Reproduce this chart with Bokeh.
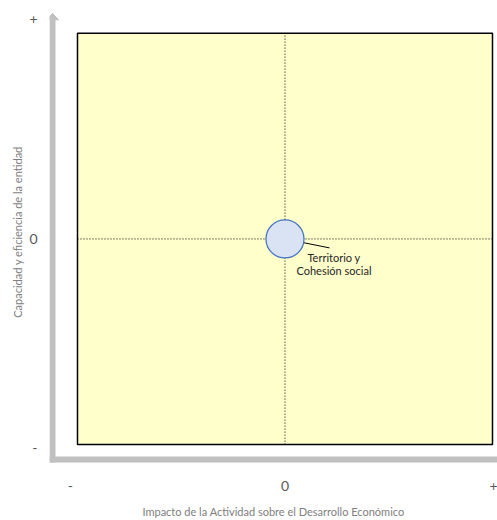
from bokeh.plotting import figure
from bokeh.models import FixedTicker, Range1d, ColumnDataSource
from bokeh.embed import file_html
from bokeh.resources import INLINE
from bokeh.core.properties import value

# ---- data ----
quad_x = [-1.0, 1.0]          # extent of the evaluation matrix (x)
quad_y = [-1.0, 1.0]          # extent of the evaluation matrix (y)
entity_names = ["Territorio y\nCohesión social"]
entity_x = [0.0]
entity_y = [0.0]
x_tick_values = [-1.034, 0.0, 1.0241]
x_tick_labels = ["-", "0", "+"]
y_tick_values = [-1.0145, 0.0, 1.0676]
y_tick_labels = ["-", "0", "+"]
x_title = "Impacto de la Actividad sobre el Desarrollo Económico"
y_title = "Capacidad y eficiencia de la entidad"

# ---- layout constants (data units) ----
X_RANGE = (-1.1349, 1.0241)
Y_RANGE = (-1.0918, 1.1594)
AXIS_X = -1.1205
AXIS_Y = -1.0725
CORNER_X, CORNER_Y = 0.0145, 0.0145
ARROW_TIP, ARROW_BASE, ARROW_HALF_W = 1.0966, 1.0652, 0.029
LEADER_DX, LEADER_DY = 0.2145, -0.0435

FONT = "Lato"
GREY = "#c0c0c0"

p = figure(width=497, height=520, output_backend="svg", toolbar_location=None,
           x_range=Range1d(*X_RANGE), y_range=Range1d(*Y_RANGE),
           min_border_left=49, min_border_bottom=54, min_border_top=0, min_border_right=0)
p.outline_line_color = None
p.grid.visible = False

# axes
for ax, vals, labs, title in [(p.xaxis[0], x_tick_values, x_tick_labels, x_title),
                              (p.yaxis[0], y_tick_values, y_tick_labels, y_title)]:
    ax.ticker = FixedTicker(ticks=vals)
    ax.major_label_overrides = {v: l for v, l in zip(vals, labs)}
    ax.axis_line_color = None
    ax.major_tick_line_color = None
    ax.minor_tick_line_color = None
    ax.major_label_text_font = FONT
    ax.major_label_text_font_size = "14px"
    ax.major_label_text_color = "#595959"
    ax.axis_label = title
    ax.axis_label_text_font = FONT
    ax.axis_label_text_font_size = "11px"
    ax.axis_label_text_font_style = "normal"
    ax.axis_label_text_color = "#808080"
p.xaxis.major_label_standoff = 11
p.yaxis.major_label_standoff = 6
p.xaxis.axis_label_standoff = 11
p.yaxis.axis_label_standoff = 2

# grey axis lines with arrow head
p.segment(x0=[AXIS_X, AXIS_X - CORNER_X], y0=[AXIS_Y - CORNER_Y, AXIS_Y],
          x1=[AXIS_X, X_RANGE[1]], y1=[ARROW_BASE, AXIS_Y],
          line_color=GREY, line_width=6)
p.patch(x=[AXIS_X - ARROW_HALF_W, AXIS_X, AXIS_X + ARROW_HALF_W],
        y=[ARROW_BASE, ARROW_TIP, ARROW_BASE],
        fill_color=GREY, line_color=GREY, line_width=1)

# matrix box
p.quad(left=[quad_x[0]], right=[quad_x[1]], bottom=[quad_y[0]], top=[quad_y[1]],
       fill_color="#ffffcc", line_color="#000000", line_width=1.5)
mid_x = (quad_x[0] + quad_x[1]) / 2
mid_y = (quad_y[0] + quad_y[1]) / 2
p.segment(x0=[mid_x, quad_x[0]], y0=[quad_y[0], mid_y], x1=[mid_x, quad_x[1]], y1=[quad_y[1], mid_y],
          line_color="#000000", line_width=1, line_dash="1 2")

# bubble, leader line and label
src = ColumnDataSource(dict(x=entity_x, y=entity_y,
                            lx=[x + LEADER_DX for x in entity_x],
                            ly=[y + LEADER_DY for y in entity_y]))
p.segment(x0="x", y0="y", x1="lx", y1="ly", source=src, line_color="#000000", line_width=1)
p.scatter(x="x", y="y", source=src, size=38, marker="circle",
          fill_color="#dae3f3", line_color="#4472c4", line_width=1.25)
for name, ex, ey in zip(entity_names, entity_x, entity_y):
    for i, line in enumerate(name.split("\n")):
        p.text(x=[ex], y=[ey], text=[line], x_offset=49, y_offset=19 + 13 * i,
               text_align="center", text_baseline="middle", text_font=value(FONT),
               text_font_size="11px", text_color="#262626")

open("out.html", "w").write(file_html(p, INLINE))
